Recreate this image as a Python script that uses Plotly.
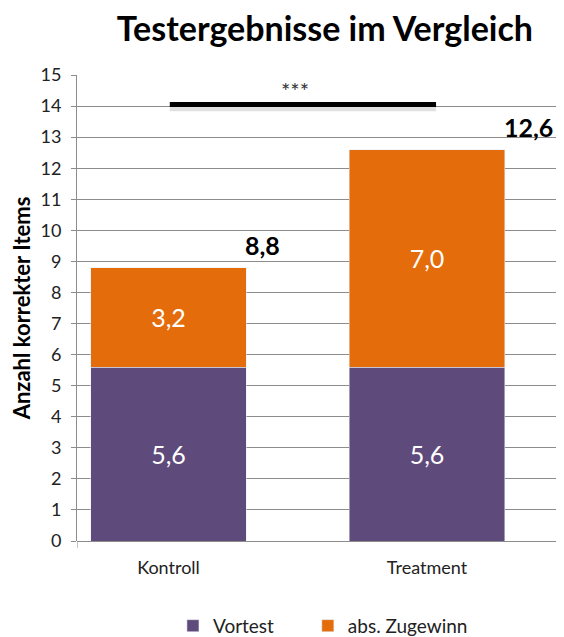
import plotly.graph_objects as go

categories = ["Kontroll", "Treatment"]
vortest = [5.6, 5.6]
zugewinn = [3.2, 7.0]
totals = [8.8, 12.6]
series_names = ["Vortest", "abs. Zugewinn"]
sig_label = "***"
title = "Testergebnisse im Vergleich"
y_title = "Anzahl korrekter Items"

PURPLE = "#5F4B7B"
ORANGE = "#E46C0A"
GRID = "#8C8C8C"
FONT = "Lato, 'Open Sans', sans-serif"
BAR_W = 0.6

def de(v):
    return f"{v:.1f}".replace(".", ",")

xs = list(range(len(categories)))

fig = go.Figure()
fig.add_trace(go.Bar(
    x=xs, y=vortest, name=series_names[0], marker_color=PURPLE, width=BAR_W,
    text=[de(v) for v in vortest], textposition="inside", insidetextanchor="middle",
    textfont=dict(color="white", size=25, family=FONT), textangle=0, legend="legend",
))
fig.add_trace(go.Bar(
    x=xs, y=zugewinn, name=series_names[1], marker_color=ORANGE, width=BAR_W,
    text=[de(v) for v in zugewinn], textposition="inside", insidetextanchor="middle",
    textfont=dict(color="white", size=25, family=FONT), textangle=0, legend="legend2",
))

for i, t in zip(xs, totals):
    fig.add_annotation(x=i + BAR_W / 2, y=t + 0.74, text=f"<b>{de(t)}</b>", showarrow=False,
                       xanchor="left", xshift=-3,
                       font=dict(size=25, color="black", family=FONT))

# significance bar
sig_y = 14.05
fig.add_shape(type="line", x0=xs[0] + 0.005, x1=xs[1] + 0.035, y0=sig_y - 0.12, y1=sig_y - 0.12,
              line=dict(color="rgba(0,0,0,0.12)", width=6), layer="above")
fig.add_shape(type="line", x0=xs[0] + 0.005, x1=xs[1] + 0.035, y0=sig_y, y1=sig_y,
              line=dict(color="black", width=5), layer="above")
fig.add_annotation(x=(xs[0] + xs[1]) / 2 - 0.01, y=sig_y + 0.45, text=sig_label, showarrow=False,
                   font=dict(size=22, color="#333333", family=FONT))

# left boundary tick on category axis
fig.add_shape(type="line", xref="x", yref="paper", x0=-0.354, x1=-0.354, y0=0, y1=-0.015,
              line=dict(color=GRID, width=1))

legend_common = dict(orientation="h", y=-0.182, yanchor="middle", xanchor="left",
                     font=dict(size=19, color="#222222", family=FONT), itemwidth=30,
                     bgcolor="rgba(0,0,0,0)")

# page body has an 8px margin: figure is 556x629 placed at (8,8)
fig.update_layout(
    barmode="stack",
    width=556, height=629,
    margin=dict(l=69, r=0, t=67, b=96, autoexpand=False),
    plot_bgcolor="white", paper_bgcolor="white",
    font=dict(family=FONT, color="#222222"),
    title=dict(text=f"<b>{title}</b>", x=0.570, xanchor="center", y=0.966, yanchor="middle",
               font=dict(size=34, color="black", family=FONT)),
    showlegend=True,
    legend=dict(x=0.197, **legend_common),
    legend2=dict(x=0.474, **legend_common),
    xaxis=dict(range=[-0.354, 1.53], tickvals=xs, ticktext=categories, showgrid=False,
               zeroline=False, showline=False, ticks="", tickfont=dict(size=18, color="#222222"),
               ticklabelstandoff=14, fixedrange=True, automargin=False),
    yaxis=dict(range=[0, 15], dtick=1, showgrid=True, gridcolor=GRID, gridwidth=1,
               zeroline=True, zerolinecolor=GRID, zerolinewidth=1,
               showline=True, linecolor=GRID, linewidth=1, ticks="outside", ticklen=5,
               tickcolor=GRID, tickfont=dict(size=18, color="#222222"), ticklabelstandoff=6,
               automargin=False,
               title=dict(text=f"<b>{y_title}</b>", font=dict(size=22, color="black"), standoff=10)),
)

fig.write_html("out.html")
